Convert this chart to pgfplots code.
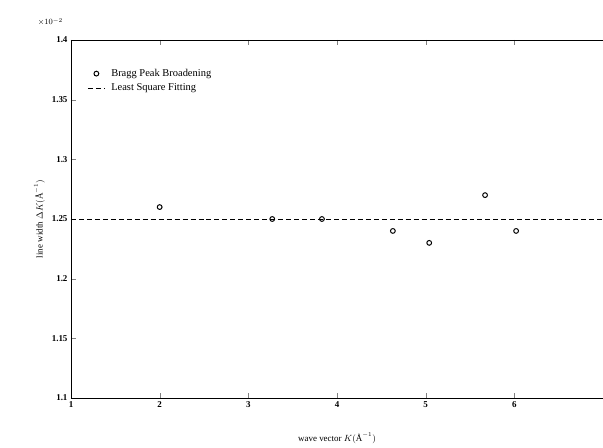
\documentclass[border=0pt]{standalone}
\usepackage{pgfplots}
\pgfplotsset{compat=1.18}
\usepackage{fontspec}
\setmainfont{Liberation Serif}
\begin{document}
\begin{tikzpicture}[x=1bp,y=1bp]
\begin{axis}[
  name=ax,
  scale only axis,
  width=532bp, height=358bp,
  xmin=1, xmax=7, ymin=1.1, ymax=1.4,
  axis x line*=box, axis y line*=left,
  xtick={1,2,3,4,5,6},
  ytick={1.1,1.15,1.2,1.25,1.3,1.35,1.4},
  yticklabels={1.1,1.15,1.2,1.25,1.3,1.35,1.4},
  xticklabels={1,2,3,4,5,6},
  tick align=inside,
  major tick length=5bp,
  xtick pos=both, ytick pos=left,
  ticklabel style={font=\bfseries\fontsize{9}{10}\selectfont},
  /pgf/number format/assume math mode=true,
  xlabel={wave vector $K(\mbox{\AA}^{-1})$},
  ylabel={line width $\Delta K(\mbox{\AA}^{-1})$},
  label style={font=\fontsize{9}{10}\selectfont},
  xlabel style={yshift=-18bp},
  axis line style={line width=1pt},
  clip=false,
  legend style={draw=none, fill=none, at={(0.025,0.93)}, anchor=north west,
    font=\fontsize{10.5}{12}\selectfont, row sep=2bp,
    nodes={inner xsep=6bp}},
  legend cell align=left,
]
\addplot[only marks, mark=o, mark size=2.4pt, line width=1pt] coordinates {
  (2.0,1.26) (3.27,1.25) (3.83,1.25) (4.63,1.24) (5.04,1.23) (5.67,1.27) (6.02,1.24)
};
\addlegendentry{Bragg Peak Broadening}
\addplot[dashed, line width=0.8pt, dash pattern=on 5pt off 3pt] coordinates {(1,1.25) (7,1.25)};
\addlegendentry{Least Square Fitting}
\node[anchor=south east, font=\fontsize{8}{9}\selectfont\bfseries, inner sep=0pt] at ([xshift=-8bp,yshift=14bp]rel axis cs:0,1) {$\times10^{-2}$};
\end{axis}
\pgfresetboundingbox
\path ([xshift=-71bp,yshift=-50bp]ax.south west) rectangle ([yshift=40bp]ax.north east);
\end{tikzpicture}
\end{document}
